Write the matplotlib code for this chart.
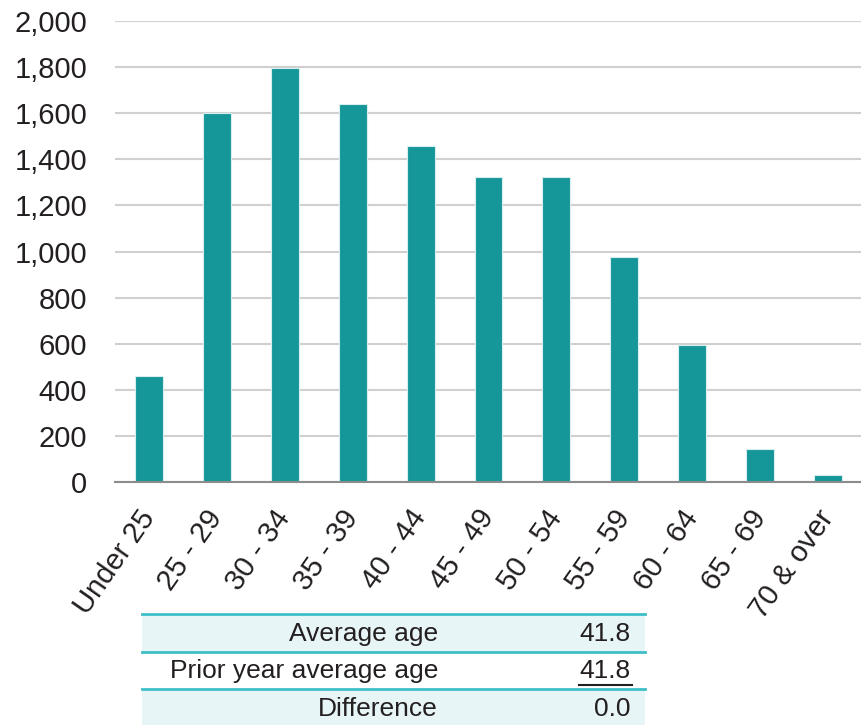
import numpy as np
import matplotlib.pyplot as plt
from matplotlib.patches import Rectangle
from matplotlib.ticker import FuncFormatter

plt.rcParams['font.family'] = ['Liberation Sans', 'DejaVu Sans']

# Headcount by age band
ageBands = ['Under 25', '25 - 29', '30 - 34', '35 - 39', '40 - 44', '45 - 49',
            '50 - 54', '55 - 59', '60 - 64', '65 - 69', '70 & over']
headcount = [462, 1602, 1796, 1638, 1460, 1322, 1322, 976, 596, 144, 33]

# Summary rows under the chart
summaryLabels = ['Average age', 'Prior year average age', 'Difference']
summaryValues = ['41.8', '41.8', '0.0']

barColor = '#15979A'
textColor = '#231F20'
lineColor = '#3DBFC9'
fillColor = '#E8F5F7'

fig = plt.figure(figsize=(8.62, 7.25), dpi=100)
ax = fig.add_axes([0.1334, 0.335, 0.8666, 0.636])

x = np.arange(len(ageBands))
ax.bar(x, headcount, width=0.41, color=barColor, edgecolor='#D8EEEE',
       linewidth=0.8, zorder=3)

ax.set_xlim(-0.5, len(ageBands) - 0.5)
ax.set_ylim(0, 2000)
ax.set_yticks(np.arange(0, 2001, 200))
ax.yaxis.set_major_formatter(FuncFormatter(lambda v, p: f'{int(v):,}'))
ax.grid(axis='y', color='#D0D0D0', linewidth=1.5, zorder=0)
for s in ['top', 'right', 'left']:
    ax.spines[s].set_visible(False)
ax.spines['bottom'].set_color('#8C8C8C')
ax.spines['bottom'].set_linewidth(1.5)
ax.spines['bottom'].set_zorder(4)

ax.tick_params(axis='both', length=0, labelsize=21, colors=textColor)
ax.tick_params(axis='y', pad=20)
ax.tick_params(axis='x', pad=22)
ax.set_xticks(x)
ax.set_xticklabels(ageBands, rotation=55, ha='right', va='center',
                   rotation_mode='anchor')

# Summary table drawn in figure pixels
W, H = 862, 725
tab = fig.add_axes([0, 0, 1, 1], facecolor='none')
tab.set_xlim(0, W)
tab.set_ylim(H, 0)
tab.axis('off')

rowTop = 614
rowH = 37.5
left, right = 142, 645
for i, (lab, val) in enumerate(zip(summaryLabels, summaryValues)):
    y0 = rowTop + i * rowH
    if i != 1:
        tab.add_patch(Rectangle((left, y0), right - left, rowH,
                                facecolor=fillColor, edgecolor='none'))
    yc = y0 + rowH / 2 + 1
    tab.text(438, yc, lab, ha='right', va='center', fontsize=19,
             color=textColor)
    tab.text(631, yc, val, ha='right', va='center', fontsize=19,
             color=textColor)
    if i == 1:
        tab.plot([579, 632], [y0 + rowH - 4, y0 + rowH - 4],
                 color=textColor, linewidth=1.5)

for k in range(3):
    yl = rowTop + k * rowH
    tab.plot([left, right], [yl, yl], color=lineColor, linewidth=2)

fig.savefig('out.png', dpi=100)
